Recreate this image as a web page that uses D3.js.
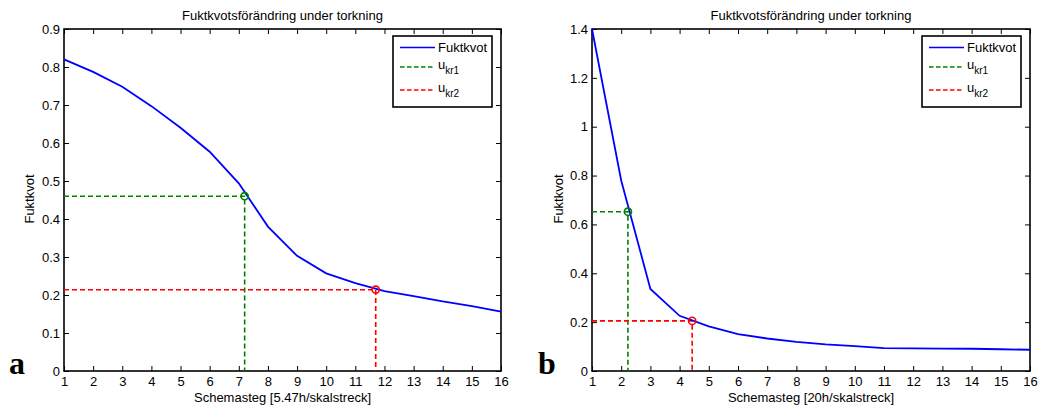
<!DOCTYPE html>
<html><head><meta charset="utf-8">
<script src="https://cdn.jsdelivr.net/npm/d3@7"></script>
<style>
body{margin:0;background:#fff;}
svg text{font-family:"Liberation Sans",Arial,sans-serif;fill:#000;}
</style></head>
<body><svg id="c" width="1045" height="410"></svg>
<script>
// ---- data ----
const steps = [1,2,3,4,5,6,7,8,9,10,11,12,13,14,15,16];
const fuktA = [0.82,0.787,0.748,0.697,0.640,0.577,0.494,0.380,0.303,0.257,0.231,0.210,0.197,0.183,0.171,0.156];
const fuktB = [1.4,0.78,0.336,0.226,0.183,0.151,0.133,0.119,0.109,0.102,0.094,0.093,0.092,0.091,0.089,0.087];
const kr1A = [7.2, 0.46];
const kr2A = [11.7, 0.214];
const kr1B = [2.23, 0.652];
const kr2B = [4.43, 0.205];
const yTicksA = [0,0.1,0.2,0.3,0.4,0.5,0.6,0.7,0.8,0.9];
const yTicksB = [0,0.2,0.4,0.6,0.8,1,1.2,1.4];
const xTicks = [1,2,3,4,5,6,7,8,9,10,11,12,13,14,15,16];
const titleText = "Fuktkvotsförändring under torkning";
const yLabel = "Fuktkvot";
const xLabelA = "Schemasteg [5.47h/skalstreck]";
const xLabelB = "Schemasteg [20h/skalstreck]";
const legendNames = ["Fuktkvot","u","u"];
const legendSubs = ["","kr1","kr2"];

const svg = d3.select("#c");
const BLUE="#0000ff", GREEN="#008000", RED="#ff0000";

function panel(opt){
  const g = svg.append("g");
  const x = d3.scaleLinear().domain([1,16]).range([opt.x0,opt.x1]);
  const y = d3.scaleLinear().domain([0,opt.ymax]).range([371,29]);
  const fmt = d3.format("~g");
  // axes
  const ax = (a)=>a.tickSizeOuter(0);
  g.append("g").attr("transform",`translate(0,371)`)
    .call(ax(d3.axisBottom(x).tickValues(xTicks).tickSizeInner(-5).tickPadding(6).tickFormat(fmt)));
  g.append("g").attr("transform",`translate(0,29)`)
    .call(ax(d3.axisTop(x).tickValues(xTicks).tickSizeInner(-5).tickFormat("")));
  g.append("g").attr("transform",`translate(${opt.x0},0)`)
    .call(ax(d3.axisLeft(y).tickValues(opt.yticks).tickSizeInner(-5).tickPadding(4).tickFormat(fmt)));
  g.append("g").attr("transform",`translate(${opt.x1},0)`)
    .call(ax(d3.axisRight(y).tickValues(opt.yticks).tickSizeInner(-5).tickFormat("")));
  g.selectAll(".domain").remove();
  g.selectAll(".tick line").attr("stroke","#000").attr("stroke-width",1);
  g.selectAll(".tick text").attr("font-size",13).attr("fill","#000")
    .style("font-family","'Liberation Sans',Arial,sans-serif");
  // box
  g.append("rect").attr("x",opt.x0).attr("y",29).attr("width",opt.x1-opt.x0).attr("height",342)
    .attr("fill","none").attr("stroke","#000").attr("stroke-width",1.6);

  // dashed guides
  const guides = [[opt.kr1,GREEN],[opt.kr2,RED]];
  guides.forEach(([p,c])=>{
    g.append("path").attr("d",d3.line()([[x(1),y(p[1])],[x(p[0]),y(p[1])],[x(p[0]),y(0)]]))
      .attr("fill","none").attr("stroke",c).attr("stroke-width",1.6).attr("stroke-dasharray","5,3");
  });
  // main line
  const line = d3.line().x((d,i)=>x(steps[i])).y(d=>y(d));
  g.append("path").datum(opt.data).attr("d",line).attr("fill","none")
    .attr("stroke",BLUE).attr("stroke-width",1.8);
  guides.forEach(([p,c])=>{
    g.append("circle").attr("cx",x(p[0])).attr("cy",y(p[1])).attr("r",3.6)
      .attr("fill","none").attr("stroke",c).attr("stroke-width",1.6);
  });
  // title and labels
  const cx = (opt.x0+opt.x1)/2;
  g.append("text").attr("x",cx).attr("y",19.5).attr("text-anchor","middle").attr("font-size",13).text(titleText);
  g.append("text").attr("x",cx).attr("y",402).attr("text-anchor","middle").attr("font-size",13).text(opt.xlabel);
  g.append("text").attr("transform",`translate(${opt.ylx},199) rotate(-90)`).attr("text-anchor","middle")
    .attr("font-size",13).text(yLabel);
  // panel letter
  g.append("text").attr("x",opt.letterX).attr("y",374).attr("font-size",32).attr("font-weight","bold")
    .style("font-family","'Liberation Serif','Times New Roman',serif").text(opt.letter);
  // legend
  const lx = opt.x1-108, ly = 36;
  g.append("rect").attr("x",lx).attr("y",ly).attr("width",99).attr("height",71)
    .attr("fill","#fff").attr("stroke","#000").attr("stroke-width",1.6);
  const colors=[BLUE,GREEN,RED], rowsY=[47.5,67,90];
  legendNames.forEach((n,i)=>{
    g.append("line").attr("x1",lx+7).attr("x2",lx+42).attr("y1",rowsY[i]).attr("y2",rowsY[i])
      .attr("stroke",colors[i]).attr("stroke-width",1.6).attr("stroke-dasharray",i?"4.5,2.5":null);
    const t = g.append("text").attr("x",lx+45).attr("y",rowsY[i]+ (i?1.5:4.5)).attr("font-size",13).text(n);
    if(legendSubs[i]) t.append("tspan").attr("dy",5).attr("font-size",10).text(legendSubs[i]);
  });
}

panel({x0:64,x1:501,ymax:0.9,yticks:yTicksA,data:fuktA,kr1:kr1A,kr2:kr2A,xlabel:xLabelA,ylx:34,letter:"a",letterX:9});
panel({x0:592,x1:1030,ymax:1.4,yticks:yTicksB,data:fuktB,kr1:kr1B,kr2:kr2B,xlabel:xLabelB,ylx:563,letter:"b",letterX:538});
</script></body></html>
